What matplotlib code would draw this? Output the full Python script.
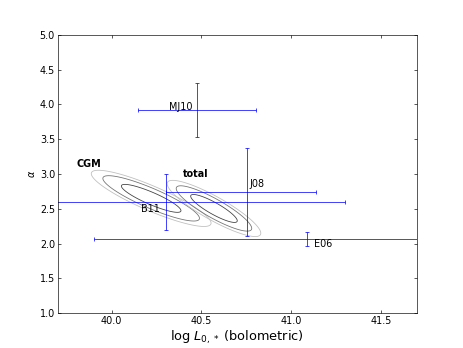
import numpy as np
import matplotlib
matplotlib.use("Agg")
import matplotlib.pyplot as plt
from matplotlib.ticker import FormatStrFormatter, MultipleLocator

# Literature measurements (log L0, alpha) with error bars
names = ["MJ10", "J08", "B11", "E06"]
logL = [40.475, 40.756, 40.30, 41.09]
logL_err_lo = [0.33, 0.456, 1.0, 1.19]
logL_err_hi = [0.33, 0.38, 1.0, 1.19]
alpha = [3.92, 2.74, 2.60, 2.07]
alpha_err = [0.39, 0.63, 0.40, 0.10]
label_x = [40.45, 40.77, 40.27, 41.13]
label_y = [3.96, 2.86, 2.50, 1.99]
label_ha = ["right", "left", "right", "left"]

# Posterior contours (Gaussian approximation)
post_names = ["CGM", "total"]
post_cx = [40.22, 40.57]
post_cy = [2.65, 2.505]
post_sx = [0.11, 0.086]
post_sy = [0.133, 0.133]
post_rho = [-0.88, -0.88]
post_label_x = [39.87, 40.47]
post_label_y = [3.145, 3.0]
conf_levels = [0.68, 0.95, 0.99]
contour_colors = ["0.25", "0.45", "0.75"]  # inner -> outer

fig = plt.figure(figsize=(463 / 58, 6), dpi=58)
ax = fig.add_axes([0.125, 0.1, 0.775, 0.8])

xg = np.linspace(39.5, 41.2, 500)
yg = np.linspace(1.8, 3.6, 500)
X, Y = np.meshgrid(xg, yg)
lev = sorted(-2 * np.log(1 - np.array(conf_levels)))
for cx, cy, sx, sy, rho in zip(post_cx, post_cy, post_sx, post_sy, post_rho):
    dx = (X - cx) / sx
    dy = (Y - cy) / sy
    chi2 = (dx ** 2 - 2 * rho * dx * dy + dy ** 2) / (1 - rho ** 2)
    ax.contour(X, Y, chi2, levels=lev, colors=contour_colors, linewidths=1.0)

for i in range(len(names)):
    ax.errorbar(logL[i], alpha[i],
                xerr=[[logL_err_lo[i]], [logL_err_hi[i]]],
                yerr=[[alpha_err[i]], [alpha_err[i]]],
                fmt="none", ecolor="b", alpha=0.75, elinewidth=1.2,
                capsize=3, capthick=1.2)
    ax.text(label_x[i], label_y[i], names[i], ha=label_ha[i], va="center",
            fontsize=12)

for n, lx, ly in zip(post_names, post_label_x, post_label_y):
    ax.text(lx, ly, n, ha="center", va="center", fontsize=12, fontweight="bold")

ax.set_xlim(39.7, 41.7)
ax.set_ylim(1.0, 5.0)
ax.xaxis.set_major_locator(MultipleLocator(0.5))
ax.yaxis.set_major_locator(MultipleLocator(0.5))
ax.xaxis.set_major_formatter(FormatStrFormatter("%.1f"))
ax.yaxis.set_major_formatter(FormatStrFormatter("%.1f"))
ax.tick_params(direction="in", top=True, right=True, labelsize=12, length=4)
ax.set_xlabel(r"log $L_{0,*}$ (bolometric)", fontsize=16)
ax.set_ylabel(r"$\alpha$", fontsize=12)

fig.savefig("out.png", dpi=58)
